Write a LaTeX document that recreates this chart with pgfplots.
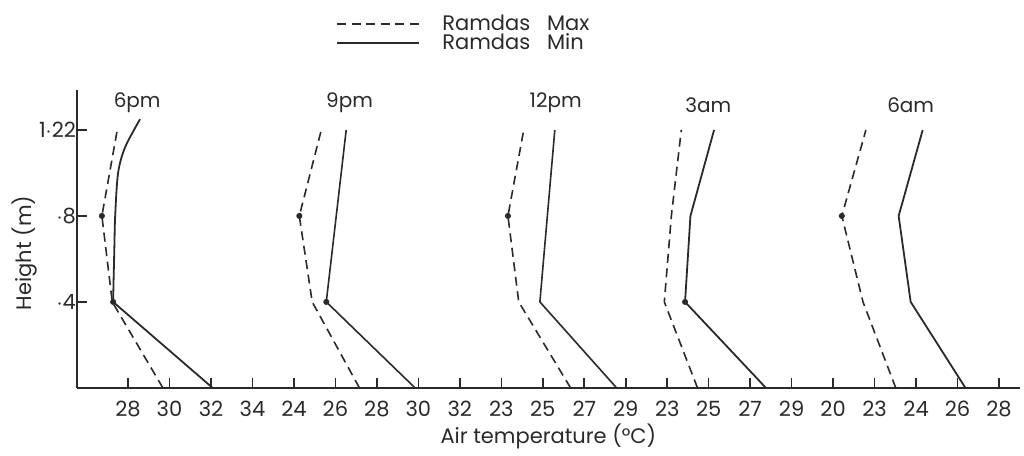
\documentclass[border=0pt]{standalone}
\usepackage{pgfplots}
\pgfplotsset{compat=1.18}
\usepackage{fontspec}
\setmainfont{Poppins}
\definecolor{ink}{HTML}{2A2A2A}

\begin{document}
\begin{tikzpicture}
\begin{axis}[
  scale only axis,
  width=471.5pt,height=149pt,
  xmin=-1.23,xmax=21.5,ymin=0,ymax=1.386,
  axis x line=bottom,axis y line=left,
  axis line style={-,ink,line width=0.9pt},
  xtick={0,1,...,21},
  xticklabels={28,30,32,34,24,26,28,30,32,23,25,27,29,23,25,27,29,20,23,24,26,28},
  ytick={0.4,0.8,1.2},
  yticklabels={$\cdot$4,$\cdot$8,1$\cdot$22},
  tick align=inside,major tick length=5pt,
  tick style={ink,line width=0.8pt},
  /pgf/number format/assume math mode=true,
  tick label style={font=\fontsize{10.5}{12}\selectfont,text=ink},
  yticklabel style={xshift=3pt},
  xticklabel style={yshift=-3pt},
  xlabel={Air temperature (°C)},
  ylabel={Height (m)},
  label style={font=\fontsize{10.5}{12}\selectfont,text=ink},
  xlabel style={at={(axis description cs:0.5,-0.164)},anchor=center},
  ylabel style={at={(axis description cs:-0.056,0.453)},anchor=center},
  clip=false,
  legend style={draw=none,fill=none,at={(0.268,1.28)},anchor=north west,
    font=\fontsize{10.5}{11}\selectfont,text=ink,row sep=-4pt},
  legend cell align=left,
  legend image code/.code={\draw[#1] (0cm,0cm) -- (1.45cm,0cm);},
]
% 6pm
\addplot[ink,dash pattern=on 4.5pt off 2.8pt,line width=0.8pt] coordinates {(0.84,0) (-0.38,0.4) (-0.63,0.8) (-0.26,1.2)};
\addlegendentry{\hspace{9pt}Ramdas\ \ \ Max}
\addplot[ink,line width=0.9pt] coordinates {(2.04,0) (-0.36,0.4)};
\addlegendentry{\hspace{9pt}Ramdas\ \ \ Min}
\addplot[ink,line width=0.9pt,smooth,forget plot] coordinates {(-0.36,0.4) (-0.33,0.65) (-0.31,0.8) (-0.24,1.0) (-0.07,1.12) (0.29,1.25)};
% 9pm
\addplot[ink,dash pattern=on 4.5pt off 2.8pt,line width=0.8pt,forget plot] coordinates {(5.58,0) (4.44,0.4) (4.13,0.8) (4.66,1.2)};
\addplot[ink,line width=0.8pt,forget plot] coordinates {(6.92,0) (4.78,0.4) (5.26,1.2)};
% 12pm
\addplot[ink,dash pattern=on 4.5pt off 2.8pt,line width=0.8pt,forget plot] coordinates {(10.67,0) (9.42,0.4) (9.16,0.8) (9.54,1.2)};
\addplot[ink,line width=0.8pt,forget plot] coordinates {(11.78,0) (9.93,0.4) (10.29,1.2)};
% 3am
\addplot[ink,dash pattern=on 4.5pt off 2.8pt,line width=0.8pt,forget plot] coordinates {(13.73,0) (12.93,0.4) (13.10,0.8) (13.34,1.2)};
\addplot[ink,line width=0.9pt,forget plot] coordinates {(15.38,0) (13.43,0.4) (13.56,0.8) (14.13,1.2)};
% 6am
\addplot[ink,dash pattern=on 4.5pt off 2.8pt,line width=0.8pt,forget plot] coordinates {(18.51,0) (17.72,0.4) (17.21,0.8) (17.79,1.2)};
\addplot[ink,line width=0.9pt,forget plot] coordinates {(20.19,0) (18.87,0.4) (18.58,0.8) (19.16,1.2)};
% small dots at the bends
\addplot[only marks,mark=*,mark size=1.3pt,ink,forget plot] coordinates {
(-0.63,0.8) (4.13,0.8) (9.16,0.8) (17.21,0.8) (4.78,0.4) (13.43,0.4) (-0.36,0.4)};
% time labels
\begin{scope}[every node/.style={font=\fontsize{10}{11}\selectfont,text=ink}]
\node at (axis cs:0.22,1.325) {6pm};
\node at (axis cs:5.34,1.325) {9pm};
\node at (axis cs:10.31,1.325) {12pm};
\node at (axis cs:13.99,1.315) {3am};
\node at (axis cs:18.87,1.315) {6am};
\end{scope}
% page margins as in the scan
\path (rel axis cs:-0.0817,1.302) (rel axis cs:1.0045,-0.228);
\end{axis}
\end{tikzpicture}
\end{document}
